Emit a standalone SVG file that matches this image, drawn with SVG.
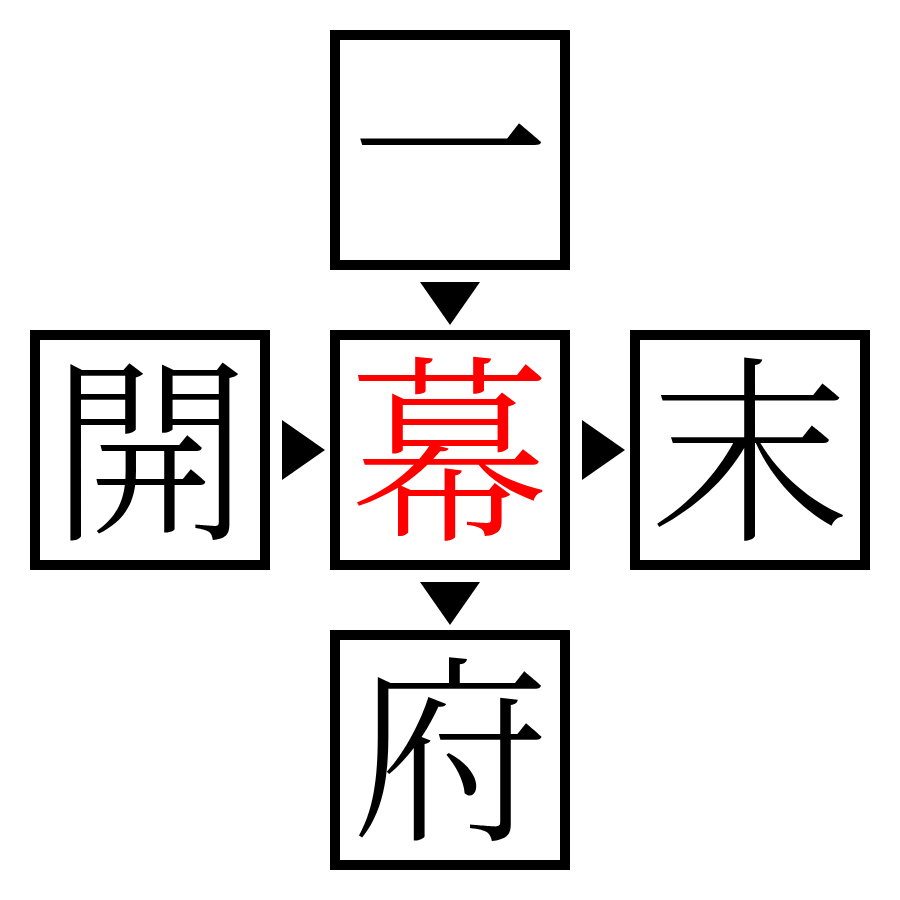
<svg xmlns="http://www.w3.org/2000/svg" width="900" height="900" viewBox="0 0 900 900">
<style>
.box{fill:#fff;stroke:#000;stroke-width:10}
.k{font-family:"Noto Serif CJK JP","Noto Sans CJK JP",serif;font-size:200px;font-weight:300;text-anchor:middle;dominant-baseline:central;fill:#000}
.r{fill:#ff0000}
.tri{fill:#000}
</style>
<rect width="900" height="900" fill="#fff"/>
<g id="top"><rect class="box" x="335" y="35" width="230" height="230"/><text class="k" x="450" y="138">一</text></g>
<g id="left"><rect class="box" x="35" y="335" width="230" height="230"/><text class="k" x="150" y="438">開</text></g>
<g id="center"><rect class="box" x="335" y="335" width="230" height="230"/><text class="k r" x="450" y="438">幕</text></g>
<g id="right"><rect class="box" x="635" y="335" width="230" height="230"/><text class="k" x="750" y="438">末</text></g>
<g id="bottom"><rect class="box" x="335" y="635" width="230" height="230"/><text class="k" x="450" y="738">府</text></g>
<g id="connectors">
<polygon class="tri" points="420,282 480,282 450,325"/>
<polygon class="tri" points="420,582 480,582 450,625"/>
<polygon class="tri" points="282,420 282,480 325,450"/>
<polygon class="tri" points="582,420 582,480 625,450"/>
</g>
</svg>
